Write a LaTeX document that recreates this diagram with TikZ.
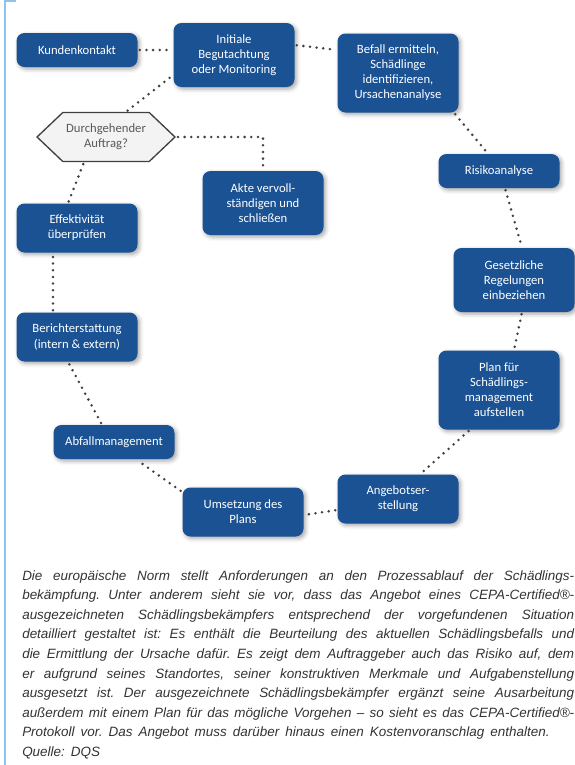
\documentclass[tikz,border=0pt]{standalone}
\usepackage{fontspec}
\setmainfont{Liberation Sans}
\newfontfamily\boxfont{Carlito}
\usetikzlibrary{calc,shapes.symbols,shadows.blur}
\definecolor{boxblue}{RGB}{26,82,148}
\definecolor{dotgray}{RGB}{64,64,64}
\definecolor{rimblue}{RGB}{143,195,234}
\definecolor{hexfill}{RGB}{243,243,243}
\definecolor{hextext}{RGB}{89,89,89}
\definecolor{captext}{RGB}{51,51,51}
\hyphenpenalty=10000
\exhyphenpenalty=10000
\tolerance=10000
\frenchspacing
\newcommand\capfont{\itshape\fontsize{10.1}{14.7}\selectfont\spaceskip=4.5pt plus 3pt minus 1pt\relax}
\begin{document}
\begin{tikzpicture}[x=0.75pt,y=-0.75pt,
  stepbox/.style={rectangle, rounded corners=6pt, fill=boxblue, text=white,
    font=\boxfont\fontsize{9.5}{11.3}\selectfont, align=center,
    minimum width=90.75pt, minimum height=14.25pt+#1*11.25pt, inner sep=2pt,
    blur shadow={shadow xshift=1.5pt, shadow yshift=-1.5pt, shadow blur radius=3pt, shadow opacity=35}},
  decision/.style={signal, signal to=west and east, signal pointer angle=87,
    draw=dotgray, line width=1pt, fill=hexfill, text=hextext,
    font=\boxfont\fontsize{9.5}{11.3}\selectfont, align=center,
    minimum width=103.5pt, minimum height=36.75pt, inner sep=1pt},
  link/.style={draw=dotgray, line width=2.1pt, line cap=round, dash pattern=on 0pt off 5pt,
    shorten <=1.5pt, shorten >=1.5pt},
  caption/.style={text width=414pt, align=justify, inner sep=0pt, text=captext, font=\capfont},
  rim/.style={draw=rimblue, line width=1.5pt}]
\useasboundingbox (0,0) rectangle (575,765);
\draw[rim] (16,1) -- (5,1) -- (5,765);

\draw (77,50) node[stepbox=1] (kunde) {Kundenkontakt};
\draw (234,55) node[stepbox=3] (begut) {Initiale\\Begutachtung\\oder Monitoring};
\draw (398,73) node[stepbox=4] (befall) {Befall ermitteln,\\Schädlinge\\identifizieren,\\Ursachenanalyse};
\draw (499,171) node[stepbox=1] (risiko) {Risikoanalyse};
\draw (514,280) node[stepbox=3] (gesetz) {Gesetzliche\\Regelungen\\einbeziehen};
\draw (499,390) node[stepbox=4] (plan) {Plan für\\Schädlings-\\management\\aufstellen};
\draw (398,499) node[stepbox=2] (angebot) {Angebotser-\\stellung};
\draw (243,512) node[stepbox=2] (umsetz) {Umsetzung des\\Plans};
\draw (114,442) node[stepbox=1] (abfall) {Abfallmanagement};
\draw (77,337) node[stepbox=2] (bericht) {Berichterstattung\\(intern \& extern)};
\draw (77,228) node[stepbox=2] (effekt) {Effektivität\\überprüfen};
\draw (263,203) node[stepbox=3] (akte) {Akte vervoll-\\ständigen und\\schließen};
\draw (106,137) node[decision] (frage) {Durchgehender\\Auftrag?};

\draw[link] (kunde.east) -- (kunde.east -| begut.west);
\draw[link] ($(begut.east)+(0,-10)$) -- ($(befall.west)+(0,-23)$);
\draw[link] ($(befall.south)+(56,0)$) -- ($(risiko.north)+(-11,0)$);
\draw[link] ($(risiko.south)+(6,0)$) -- ($(gesetz.north)+(8,0)$);
\draw[link] ($(gesetz.south)+(8,0)$) -- ($(plan.north)+(15,0)$);
\draw[link] ($(plan.south)+(-29,0)$) -- ($(angebot.north)+(22,0)$);
\draw[link] ($(angebot.west)+(0,11)$) -- ($(umsetz.east)+(0,3)$);
\draw[link] ($(umsetz.west)+(0,-20)$) -- ($(abfall.south)+(22,0)$);
\draw[link] ($(abfall.north)+(-12,0)$) -- ($(bericht.south)+(-9,0)$);
\draw[link] ($(bericht.north)+(-24,0)$) -- ($(effekt.south)+(-24,0)$);
\draw[link] ($(effekt.north)+(-9,0)$) -- ($(frage.south)+(-22,0)$);
\draw[link] ($(frage.north)+(20,0)$) -- ($(begut.west)+(0,20)$);
\draw[link] (frage.east) -| (akte.north);

\draw (22,570) node[caption, anchor=north west] (note) {Die europäische Norm stellt Anforderungen an den Prozessablauf der Schädlings-\linebreak
bekämpfung. Unter anderem sieht sie vor, dass das Angebot eines CEPA-Certified®-\linebreak
ausgezeichneten Schädlingsbekämpfers entsprechend der vorgefundenen Situation\linebreak
detailliert gestaltet ist: Es enthält die Beurteilung des aktuellen Schädlingsbefalls und\linebreak
die Ermittlung der Ursache dafür. Es zeigt dem Auftraggeber auch das Risiko auf, dem\linebreak
er aufgrund seines Standortes, seiner konstruktiven Merkmale und Aufgabenstellung\linebreak
ausgesetzt ist. Der ausgezeichnete Schädlingsbekämpfer ergänzt seine Ausarbeitung\linebreak
außerdem mit einem Plan für das mögliche Vorgehen – so sieht es das CEPA-Certified®-\linebreak
Protokoll vor. Das Angebot muss darüber hinaus einen Kostenvoranschlag enthalten.\\
Quelle: DQS};
\end{tikzpicture}
\end{document}
